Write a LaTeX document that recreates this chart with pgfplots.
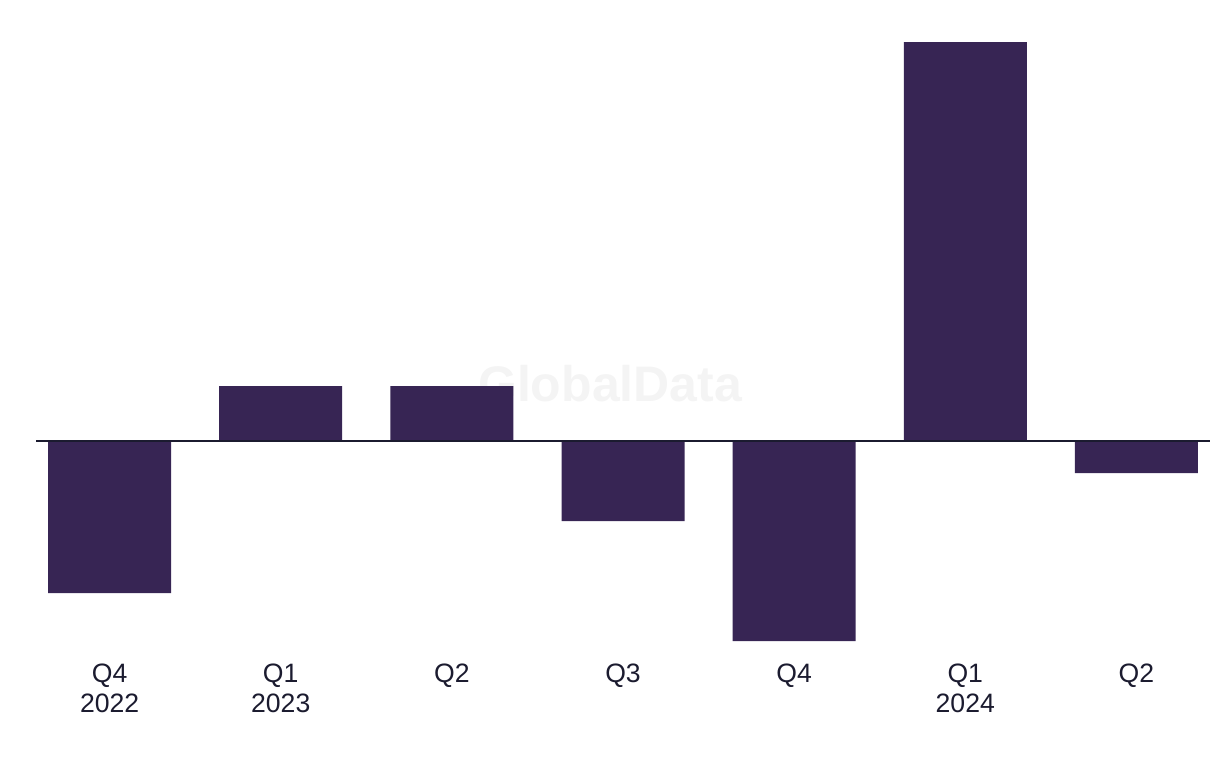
\documentclass[border=0pt]{standalone}
\usepackage{fontspec}
\setmainfont{Liberation Sans}
\usepackage{pgfplots}
\pgfplotsset{compat=1.18}
\definecolor{barc}{HTML}{372554}
\definecolor{txt}{HTML}{1B1B2F}
\definecolor{wm}{HTML}{F4F4F4}
\begin{document}
\begin{tikzpicture}[x=1pt,y=1pt]
\useasboundingbox (0,0) rectangle (610,384);
\begin{axis}[
  at={(18pt,63.5pt)}, anchor=south west,
  scale only axis, width=587pt, height=299.5pt,
  xmin=-0.43, xmax=6.43, ymin=-200, ymax=399,
  axis line style={draw=none},
  ytick=\empty,
  xtick={0,1,2,3,4,5,6},
  xticklabels={{Q4\\2022},{Q1\\2023},{Q2},{Q3},{Q4},{Q1\\2024},{Q2}},
  major tick length=0pt,
  xticklabel style={align=center, anchor=north, yshift=-8pt, text=txt,
    font=\fontsize{13.3}{15}\selectfont},
  clip=false,
]
\node[text=wm, font=\bfseries\fontsize{25}{25}\selectfont] at (axis cs:2.925,57) {GlobalData};
\addplot[ybar, bar width=61.5pt, bar shift=0pt, fill=barc, draw=none]
  coordinates {(0,-152) (1,55) (2,55) (3,-80) (4,-200) (5,399) (6,-32)};
\draw[txt, line width=1pt] (axis cs:-0.43,0) -- (axis cs:6.43,0);
\end{axis}
\end{tikzpicture}
\end{document}
